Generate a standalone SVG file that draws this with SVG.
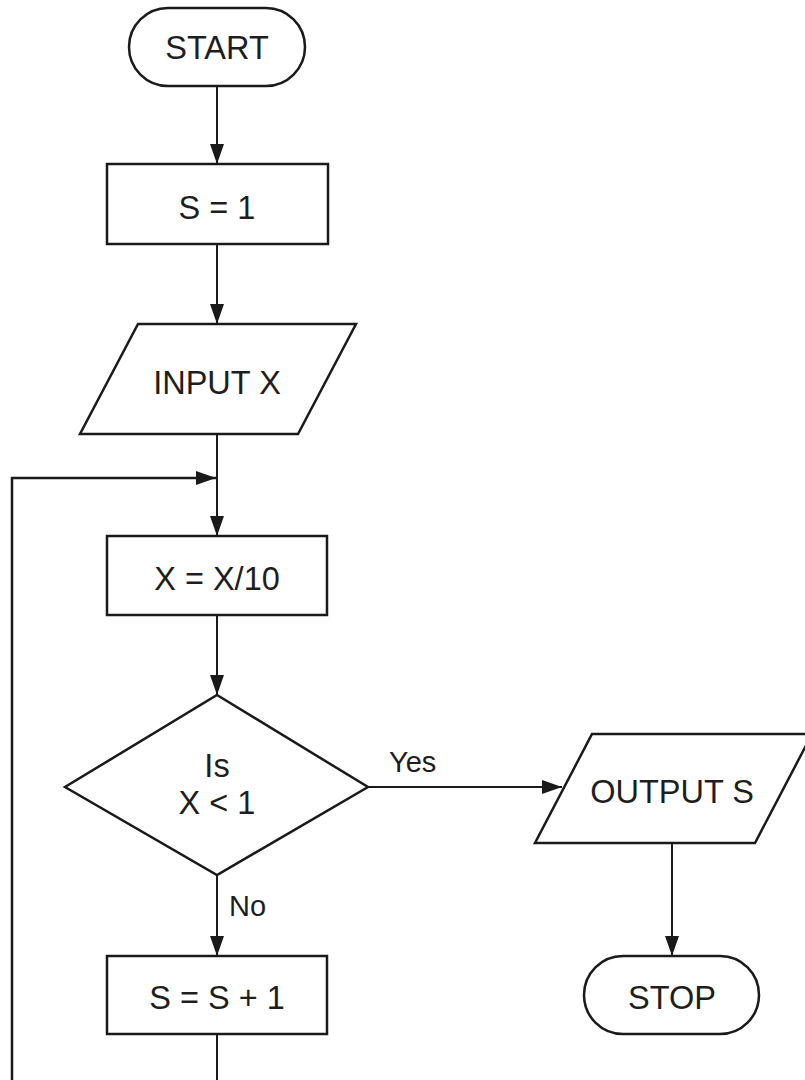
<svg xmlns="http://www.w3.org/2000/svg" width="805" height="1080" viewBox="0 0 805 1080">
<defs>
<marker id="ah" viewBox="0 0 20 14" refX="20" refY="7" markerWidth="20" markerHeight="14" markerUnits="userSpaceOnUse" orient="auto">
<path d="M0,0 L20,7 L0,14 Z" fill="#1a1a1a"/>
</marker>
<style>
.shape{fill:#fff;stroke:#1a1a1a;stroke-width:2.5}
.conn{fill:none;stroke:#1a1a1a;stroke-width:2}
.t{font-family:"Liberation Sans",Arial,sans-serif;font-size:32.5px;fill:#1e1e1e;text-anchor:middle;dominant-baseline:central}
.lbl{font-family:"Liberation Sans",Arial,sans-serif;font-size:29px;fill:#1e1e1e}
</style>
</defs>
<rect width="805" height="1080" fill="#fff"/>
<g id="connectors">
<line class="conn" x1="217" y1="86" x2="217" y2="164" marker-end="url(#ah)"/>
<line class="conn" x1="217" y1="244" x2="217" y2="324" marker-end="url(#ah)"/>
<line class="conn" x1="217" y1="434" x2="217" y2="536" marker-end="url(#ah)"/>
<line class="conn" x1="217" y1="615" x2="217" y2="695" marker-end="url(#ah)"/>
<line class="conn" x1="368" y1="787" x2="562" y2="787" marker-end="url(#ah)"/>
<line class="conn" x1="217" y1="875" x2="217" y2="956" marker-end="url(#ah)"/>
<line class="conn" x1="672" y1="843" x2="672" y2="956" marker-end="url(#ah)"/>
<line class="conn" x1="217" y1="1034" x2="217" y2="1080"/>
<polyline class="conn" points="12,1080 12,478 216,478" marker-end="url(#ah)" style="stroke-width:2.5"/>
<text class="lbl" x="389" y="772">Yes</text>
<text class="lbl" x="229" y="916">No</text>
</g>
<g id="start">
<rect class="shape" x="129" y="8" width="176" height="78" rx="39" ry="39"/>
<text class="t" x="217" y="48">START</text>
</g>
<g id="s1">
<rect class="shape" x="107" y="164" width="221" height="80"/>
<text class="t" x="217" y="208">S = 1</text>
</g>
<g id="input">
<polygon class="shape" points="138,324 356,324 298,434 80,434"/>
<text class="t" x="217" y="383">INPUT X</text>
</g>
<g id="xdiv">
<rect class="shape" x="107" y="536" width="220" height="79"/>
<text class="t" x="217" y="579">X = X/10</text>
</g>
<g id="decision">
<polygon class="shape" points="217,695 368,787 217,875 65,787"/>
<text class="t" x="217" y="766">Is</text>
<text class="t" x="217" y="803">X &lt; 1</text>
</g>
<g id="sinc">
<rect class="shape" x="107" y="956" width="220" height="78"/>
<text class="t" x="217" y="998">S = S + 1</text>
</g>
<g id="output">
<polygon class="shape" points="592,734 812,734 755,843 535,843"/>
<text class="t" x="672" y="792">OUTPUT S</text>
</g>
<g id="stop">
<rect class="shape" x="584" y="956" width="175" height="78" rx="39" ry="39"/>
<text class="t" x="672" y="998">STOP</text>
</g>
</svg>
